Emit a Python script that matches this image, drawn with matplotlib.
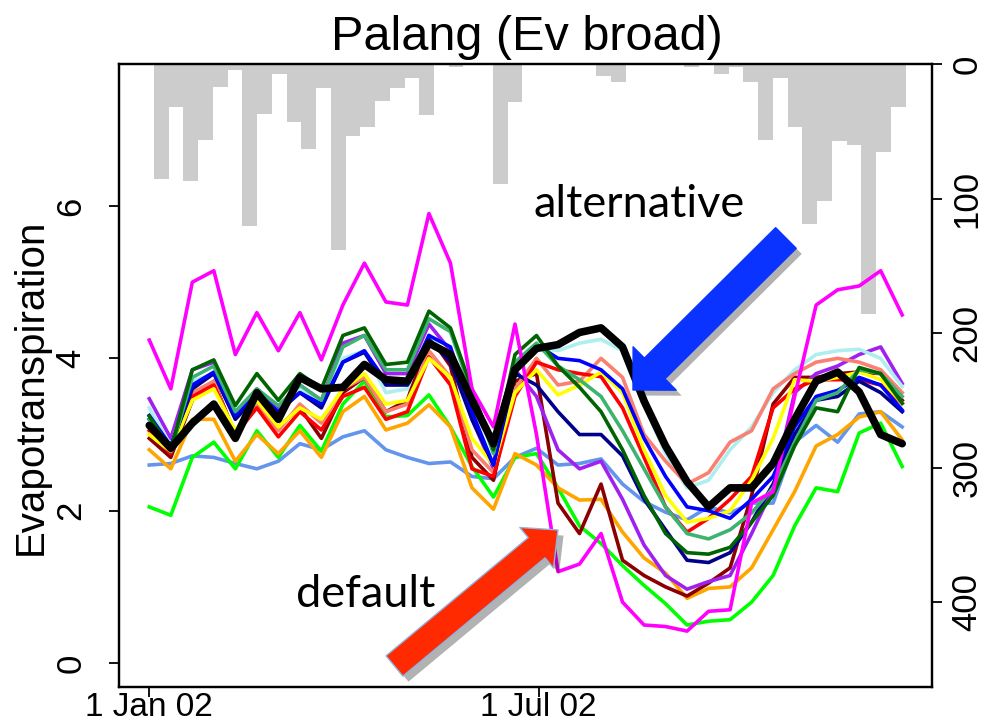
import numpy as np
import matplotlib
matplotlib.use("Agg")
import matplotlib.pyplot as plt
import matplotlib.patheffects as pe
from matplotlib.patches import FancyArrowPatch

plt.rcParams['font.family'] = ['Liberation Sans', 'DejaVu Sans']

# days since 1 Jan 2002, one reading every 10 days
days = np.arange(0, 351, 10)

date_ticks = [0, 181]
date_labels = ['1 Jan 02', '1 Jul 02']

# weekly rainfall (mm), hung from the top of the panel
rain = [85, 32, 87, 56, 17, 4.5, 120, 37, 7, 43, 63, 18, 138, 53, 47, 27, 18,
        10.5, 38, 0, 2, 0, 0, 89, 28, 0, 0, 0, 0, 0, 9, 13, 0, 0, 0, 0, 2, 0,
        7.5, 2, 13, 56, 10.5, 47, 119, 102, 57, 60, 186, 65, 32]
rain_start = 2.2
rain_week = 6.85

# evapotranspiration, one run per parameter set
et_cornflower = [2.6, 2.62, 2.72, 2.7, 2.62, 2.55, 2.65, 2.88, 2.8, 2.97, 3.05, 2.8,
                 2.7, 2.62, 2.64, 2.45, 2.42, 2.7, 2.82, 2.6, 2.62, 2.68, 2.35, 2.12,
                 1.98, 1.88, 2.05, 1.97, 2.1, 2.1, 2.9, 3.12, 2.9, 3.27, 3.3, 3.1]
et_green = [2.05, 1.94, 2.7, 2.9, 2.55, 3.05, 2.7, 3.12, 2.78, 3.4, 3.7, 3.23,
            3.25, 3.52, 3.1, 2.58, 2.18, 2.7, 2.75, 2.3, 1.8, 1.57, 1.28, 1.02,
            0.78, 0.5, 0.55, 0.57, 0.8, 1.15, 1.8, 2.3, 2.25, 3.02, 3.15, 2.58]
et_orange = [2.8, 2.55, 3.2, 3.2, 2.65, 3.0, 2.75, 3.05, 2.7, 3.3, 3.5, 3.06,
             3.15, 3.39, 3.1, 2.3, 2.02, 2.75, 2.6, 2.3, 2.14, 2.15, 1.72, 1.38,
             1.18, 0.85, 0.98, 1.0, 1.25, 1.75, 2.25, 2.85, 3.0, 3.23, 3.3, 2.93]
et_maroon = [2.95, 2.7, 3.45, 3.7, 3.0, 3.4, 3.1, 3.35, 2.95, 3.55, 3.75, 3.3,
             3.45, 4.3, 3.9, 2.7, 2.4, 3.7, 3.8, 2.1, 1.7, 2.35, 1.35, 1.15,
             1.0, 0.88, 1.05, 1.25, 2.2, 3.4, 3.75, 3.75, 3.8, 3.82, 3.8, 3.45]
et_purple = [3.47, 2.95, 3.85, 3.95, 3.25, 3.6, 3.35, 3.65, 3.45, 4.2, 4.3, 3.8,
             3.8, 4.45, 4.1, 3.2, 2.55, 3.85, 3.5, 2.8, 2.55, 2.65, 2.15, 1.55,
             1.15, 0.97, 1.07, 1.15, 1.7, 2.3, 3.55, 3.8, 3.9, 4.05, 4.15, 3.67]
et_turquoise = [3.35, 2.85, 3.7, 3.8, 3.2, 3.55, 3.3, 3.6, 3.45, 4.0, 4.1, 3.55,
                3.6, 4.3, 4.0, 3.4, 2.8, 3.95, 4.15, 4.1, 4.2, 4.25, 4.1, 3.4,
                2.75, 2.3, 2.4, 2.8, 3.1, 3.55, 3.85, 4.05, 4.1, 4.12, 4.0, 3.63]
et_yellow = [3.0, 2.78, 3.45, 3.6, 3.05, 3.45, 3.1, 3.35, 3.2, 3.6, 3.8, 3.4,
             3.45, 4.0, 3.75, 2.95, 2.6, 3.55, 3.85, 3.52, 3.65, 3.82, 3.55, 2.8,
             2.2, 1.85, 1.9, 2.0, 2.4, 2.95, 3.72, 3.7, 3.75, 3.82, 3.72, 3.41]
et_salmon = [3.1, 2.8, 3.55, 3.7, 2.95, 3.4, 3.05, 3.4, 3.15, 3.6, 3.75, 3.3,
             3.4, 4.1, 3.75, 2.8, 2.5, 3.6, 4.0, 3.65, 3.7, 4.0, 3.75, 3.0,
             2.65, 2.35, 2.5, 2.9, 3.05, 3.6, 3.8, 3.95, 4.0, 3.95, 3.85, 3.55]
et_red = [3.05, 2.75, 3.5, 3.65, 3.0, 3.35, 2.97, 3.3, 3.06, 3.5, 3.62, 3.2,
          3.3, 4.02, 3.65, 2.55, 2.45, 3.5, 3.95, 3.85, 3.8, 3.76, 3.35, 2.7,
          2.05, 1.72, 1.9, 2.15, 2.45, 3.35, 3.6, 3.72, 3.72, 3.72, 3.65, 3.41]
et_navy = [3.2, 2.85, 3.6, 3.8, 3.2, 3.5, 3.3, 3.55, 3.35, 3.95, 4.08, 3.65,
           3.65, 4.25, 3.95, 3.2, 2.6, 3.8, 3.65, 3.3, 3.0, 3.0, 2.72, 2.15,
           1.75, 1.35, 1.32, 1.45, 1.85, 2.35, 3.0, 3.45, 3.5, 3.7, 3.55, 3.3]
et_blue = [3.25, 2.85, 3.65, 3.82, 3.25, 3.55, 3.3, 3.55, 3.4, 3.95, 4.1, 3.7,
           3.7, 4.3, 4.15, 3.3, 2.6, 3.9, 4.18, 4.0, 3.97, 3.85, 3.6, 2.95,
           2.45, 2.05, 2.0, 1.9, 2.15, 2.45, 3.1, 3.5, 3.58, 3.75, 3.65, 3.32]
et_seagreen = [3.2, 2.78, 3.75, 3.9, 3.3, 3.6, 3.38, 3.65, 3.45, 4.15, 4.3, 3.85,
               3.85, 4.52, 4.35, 3.55, 2.75, 3.95, 4.2, 3.9, 3.72, 3.5, 3.05, 2.55,
               2.05, 1.7, 1.63, 1.75, 1.97, 2.3, 2.9, 3.45, 3.55, 3.85, 3.8, 3.5]
et_darkgreen = [3.24, 2.8, 3.85, 3.98, 3.38, 3.8, 3.45, 3.8, 3.6, 4.3, 4.4, 3.92,
                3.95, 4.62, 4.4, 3.6, 2.8, 4.05, 4.3, 3.9, 3.62, 3.3, 2.8, 2.2,
                1.7, 1.45, 1.43, 1.52, 1.85, 2.2, 2.85, 3.35, 3.3, 3.88, 3.8, 3.41]
et_magenta = [4.24, 3.6, 5.0, 5.15, 4.05, 4.6, 4.1, 4.6, 3.98, 4.7, 5.25, 4.74,
              4.7, 5.9, 5.25, 3.6, 3.1, 4.45, 3.0, 1.2, 1.3, 1.7, 0.8, 0.5,
              0.48, 0.42, 0.68, 0.7, 2.1, 2.25, 3.5, 4.7, 4.9, 4.95, 5.15, 4.57]
et_alternative = [3.12, 2.82, 3.15, 3.4, 2.95, 3.55, 3.2, 3.75, 3.6, 3.62, 3.92, 3.72,
                  3.7, 4.2, 4.05, 3.45, 2.88, 3.85, 4.13, 4.18, 4.34, 4.4, 4.15, 3.44,
                  2.85, 2.38, 2.05, 2.3, 2.3, 2.62, 3.2, 3.7, 3.82, 3.56, 3.0, 2.88]

runs = [
    (et_cornflower, 'cornflowerblue'),
    (et_green, '#00ff00'),
    (et_orange, 'orange'),
    (et_maroon, '#8b0000'),
    (et_purple, '#a020f0'),
    (et_turquoise, '#aeeeee'),
    (et_salmon, 'salmon'),
    (et_red, 'red'),
    (et_yellow, 'yellow'),
    (et_navy, '#00008b'),
    (et_blue, 'blue'),
    (et_seagreen, 'mediumseagreen'),
    (et_darkgreen, 'darkgreen'),
    (et_magenta, 'magenta'),
]

fig = plt.figure(figsize=(9.84, 7.28), dpi=100)
ax = fig.add_axes([0.1209, 0.0567, 0.8259, 0.8550])
ax2 = ax.twinx()

# rainfall bars on the right-hand axis, behind the ET lines
ax2.bar(rain_start + rain_week * np.arange(len(rain)), rain, width=rain_week,
        align='edge', color='#cccccc', linewidth=0)
ax2.set_ylim(463, 0)
ax2.set_yticks([0, 100, 200, 300, 400])
ax.set_zorder(ax2.get_zorder() + 1)
ax.patch.set_visible(False)

for vals, col in runs:
    ax.plot(days, vals, color=col, lw=2.6, solid_joinstyle='round')
ax.plot(days, et_alternative, color='black', lw=5.5, solid_joinstyle='round',
        solid_capstyle='round')

ax.set_xlim(-14.1, 363.7)
ax.set_ylim(-0.31, 7.86)
ax.set_yticks([0, 2, 4, 6])
ax.set_xticks(date_ticks, date_labels)

for a in (ax, ax2):
    for s in a.spines.values():
        s.set_linewidth(1.6)
ax.tick_params(axis='x', length=7.5, width=1.3, labelsize=24, pad=-3.5)
ax.tick_params(axis='y', length=7.5, width=1.3, labelsize=25, pad=15, labelrotation=90)
ax2.tick_params(axis='y', length=7.5, width=1.3, labelsize=25, pad=6, labelrotation=90)
for lab in ax.get_yticklabels() + ax2.get_yticklabels():
    lab.set_va('center')

fig.text(0.535, 1 - 50 / 728, 'Palang (Ev broad)', ha='center', va='baseline', fontsize=35)
fig.text(31 / 984, 1 - 387 / 728, 'Evapotranspiration', rotation=90,
         ha='center', va='center', fontsize=29)

# arrows pointing at the two parameter sets
shadow = [pe.SimplePatchShadow(offset=(4, -4), shadow_rgbFace='k', alpha=0.3), pe.Normal()]
ax.add_patch(FancyArrowPatch((0.8207, 0.7209), (0.6325, 0.4767), transform=ax.transAxes,
                             arrowstyle='simple,head_length=22,head_width=44,tail_width=21',
                             mutation_scale=1, shrinkA=0, shrinkB=0, color='#0a33ff',
                             path_effects=shadow, zorder=5))
ax.add_patch(FancyArrowPatch((0.339, 0.0333), (0.5402, 0.2518), transform=ax.transAxes,
                             arrowstyle='simple,head_length=20,head_width=38,tail_width=19',
                             mutation_scale=1, shrinkA=0, shrinkB=0, facecolor='#ff2a00',
                             edgecolor='#8fb4e3', lw=1, path_effects=shadow, zorder=5))
ax.text(0.6398, 0.7551, 'alternative', transform=ax.transAxes, ha='center',
        va='baseline', fontsize=32.5, family='Lato')
ax.text(0.3033, 0.128, 'default', transform=ax.transAxes, ha='center',
        va='baseline', fontsize=32.5, family='Lato')

fig.savefig('out.png', dpi=100)
